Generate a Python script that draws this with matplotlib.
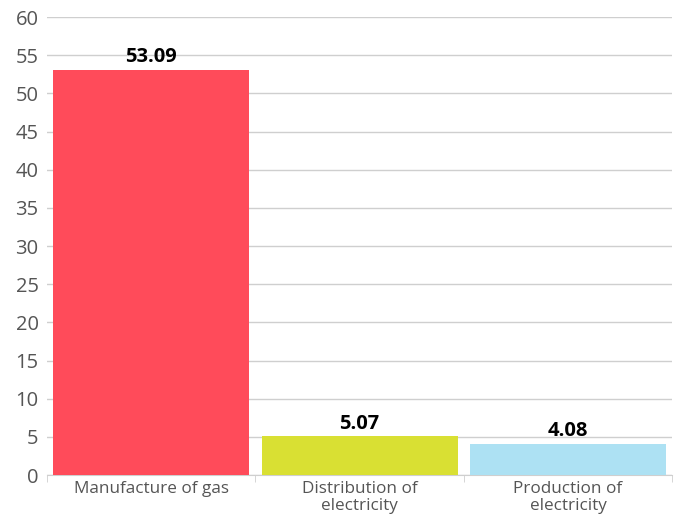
import matplotlib
matplotlib.use("Agg")
import matplotlib.pyplot as plt
import numpy as np

categories = ["Manufacture of gas", "Distribution of\nelectricity", "Production of\nelectricity"]
values = [53.09, 5.07, 4.08]
colors = ["#FF4B5A", "#D9E033", "#ADE1F3"]
yticks = list(range(0, 61, 5))

plt.rcParams['font.family'] = ['Open Sans', 'DejaVu Sans']
fig = plt.figure(figsize=(6.81, 5.18), dpi=100)
ax = fig.add_axes([0.069, 0.083, 0.918, 0.884])
x = np.arange(len(categories))
ax.bar(x, values, width=0.94, color=colors, zorder=3)
for xi, v in zip(x, values):
    ax.text(xi, v + 0.35, f"{v:.2f}", ha='center', va='bottom', fontsize=14.5, fontweight='bold', color='black', zorder=4)
ax.set_xlim(-0.5, len(categories) - 0.5)
ax.set_ylim(0, 60)
ax.set_yticks(yticks)
ax.yaxis.grid(True, color='#cfcfcf', linewidth=1, zorder=0)
ax.tick_params(axis='y', length=0, labelsize=14.5, labelcolor='#555555', pad=6)
ax.set_xticks(x)
ax.set_xticklabels(categories, fontsize=12.3, color='#555555', linespacing=1.15)
ax.tick_params(axis='x', length=0, pad=4)
ax.set_xticks(np.arange(-0.5, len(categories), 1), minor=True)
ax.tick_params(axis='x', which='minor', length=5, color='#cfcfcf')
for s in ['top', 'right', 'left']:
    ax.spines[s].set_visible(False)
ax.spines['bottom'].set_color('#cfcfcf')
fig.savefig("out.png", dpi=100)
